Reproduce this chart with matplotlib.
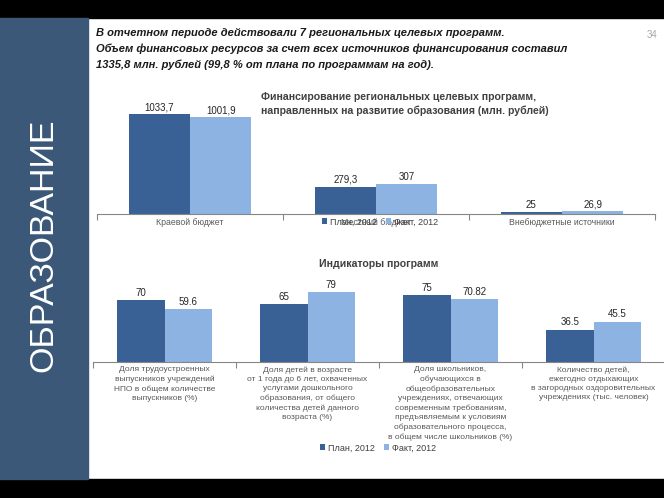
import matplotlib
matplotlib.use("Agg")
import matplotlib.pyplot as plt
from matplotlib.patches import Rectangle
import numpy as np

plt.rcParams['font.family'] = ['Liberation Sans', 'DejaVu Sans']

# ---------------- data ----------------
fin_categories = ["Краевой бюджет", "Местный бюджет", "Внебюджетные источники"]
fin_plan = [1033.7, 279.3, 25]
fin_fact = [1001.9, 307, 26.9]

ind_categories = [
    "Доля трудоустроенных\nвыпускников учреждений\nНПО в общем количестве\nвыпускников (%)",
    "Доля детей в возрасте\nот 1 года до 6 лет, охваченных\nуслугами дошкольного\nобразования, от общего\nколичества детей данного\nвозраста (%)",
    "Доля школьников,\nобучающихся в\nобщеобразовательных\nучреждениях, отвечающих\nсовременным требованиям,\nпредъявляемым к условиям\nобразовательного процесса,\nв общем числе школьников (%)",
    "Количество детей,\nежегодно отдыхающих\nв загородных оздоровительных\nучреждениях (тыс. человек)",
]
ind_plan = [70, 65, 75, 36.5]
ind_fact = [59.6, 79, 70.82, 45.5]

series_names = ["План, 2012", "Факт, 2012"]

intro_lines = [
    "В отчетном периоде действовали 7 региональных целевых программ.",
    "Объем финансовых ресурсов за счет всех источников финансирования составил",
    "1335,8 млн. рублей (99,8 % от плана по программам на год).",
]
fin_title = "Финансирование региональных целевых программ,\nнаправленных на развитие образования (млн. рублей)"
ind_title = "Индикаторы программ"
side_title = "ОБРАЗОВАНИЕ"
page_no = "34"

# ---------------- styling ----------------
W, H = 664, 498
DARK = '#3a6195'
LIGHT = '#8db3e2'
PANEL = '#3c5878'
AXIS = '#868686'
TXT = '#404040'

fig = plt.figure(figsize=(W / 100, H / 100), dpi=100)
fig.patch.set_facecolor('white')


def fx(x):
    return x / W


def fy(y):
    return 1 - y / H


# frame: black bands and side panel
fig.patches.append(Rectangle((0, fy(18)), 1, 18 / H, transform=fig.transFigure, color='black', zorder=0))
fig.patches.append(Rectangle((0, 0), 1, (H - 479) / H, transform=fig.transFigure, color='black', zorder=0))
fig.patches.append(Rectangle((0, fy(479)), 88 / W, (479 - 18) / H, transform=fig.transFigure, color=PANEL, zorder=0))
fig.text(fx(44), fy(245), side_title, rotation=90, color='white', fontsize=24.5,
         ha='center', va='center')

# intro text
for i, line in enumerate(intro_lines):
    fig.text(fx(96), fy(33 + 16 * i), line, fontsize=8, fontweight='bold', fontstyle='italic',
             color='#1a1a1a', ha='left', va='center')
fig.text(fx(652), fy(35), page_no, fontsize=7, color='#a6a6a6', ha='center', va='center')


def make_bar_axes(rect_px, cats, plan, fact, ymax, labfmt, cat_fs, linesp):
    x0, x1, ytop, ybase = rect_px
    ax = fig.add_axes([fx(x0), fy(ybase), (x1 - x0) / W, (ybase - ytop) / H])
    ax.set_facecolor('none')
    n = len(cats)
    pos = np.arange(n)
    w = 0.33
    b1 = ax.bar(pos - w / 2, plan, w, color=DARK, label=series_names[0], zorder=2)
    b2 = ax.bar(pos + w / 2, fact, w, color=LIGHT, label=series_names[1], zorder=2)
    ax.bar_label(b1, labels=[labfmt(v) for v in plan], padding=1.5, fontsize=7, color='#262626')
    ax.bar_label(b2, labels=[labfmt(v) for v in fact], padding=1.5, fontsize=7, color='#262626')
    ax.set_xlim(-0.5, n - 0.5)
    ax.set_ylim(0, ymax)
    for s in ['top', 'right', 'left']:
        ax.spines[s].set_visible(False)
    ax.spines['bottom'].set_color(AXIS)
    ax.spines['bottom'].set_linewidth(0.8)
    ax.set_yticks([])
    ax.set_xticks(pos)
    ax.set_xticklabels(cats, fontsize=cat_fs, color='#595959', linespacing=linesp)
    ax.tick_params(axis='x', which='major', length=0, pad=3)
    ax.set_xticks(np.arange(n + 1) - 0.5, minor=True)
    ax.tick_params(axis='x', which='minor', length=4, color=AXIS, width=0.8)
    return ax, b1, b2


# top chart
ax1, t1, t2 = make_bar_axes((97, 655, 100, 214), fin_categories, fin_plan, fin_fact, 1180,
                            lambda v: f"{v:g}".replace('.', ','), 6.3, 1.0)
fig.text(fx(261), fy(104), fin_title, fontsize=7.6, fontweight='bold', color=TXT,
         ha='left', va='center', linespacing=1.3)
fig.legend([t1, t2], series_names, loc='center', bbox_to_anchor=(fx(380), fy(222)), ncol=2,
           frameon=False, fontsize=6.5, handlelength=0.6, handleheight=0.6, handletextpad=0.3,
           columnspacing=1.0, labelcolor='#404040')

# bottom chart
ax2, u1, u2 = make_bar_axes((93, 665, 270, 362), ind_categories, ind_plan, ind_fact, 103.4,
                            lambda v: f"{v:g}", 6, 1.45)
fig.text(fx(379), fy(264), ind_title, fontsize=7.6, fontweight='bold', color=TXT,
         ha='center', va='center')
fig.legend([u1, u2], series_names, loc='center', bbox_to_anchor=(fx(378), fy(448)), ncol=2,
           frameon=False, fontsize=6.5, handlelength=0.6, handleheight=0.6, handletextpad=0.3,
           columnspacing=1.0, labelcolor='#404040')

fig.savefig('out.png', dpi=100)
